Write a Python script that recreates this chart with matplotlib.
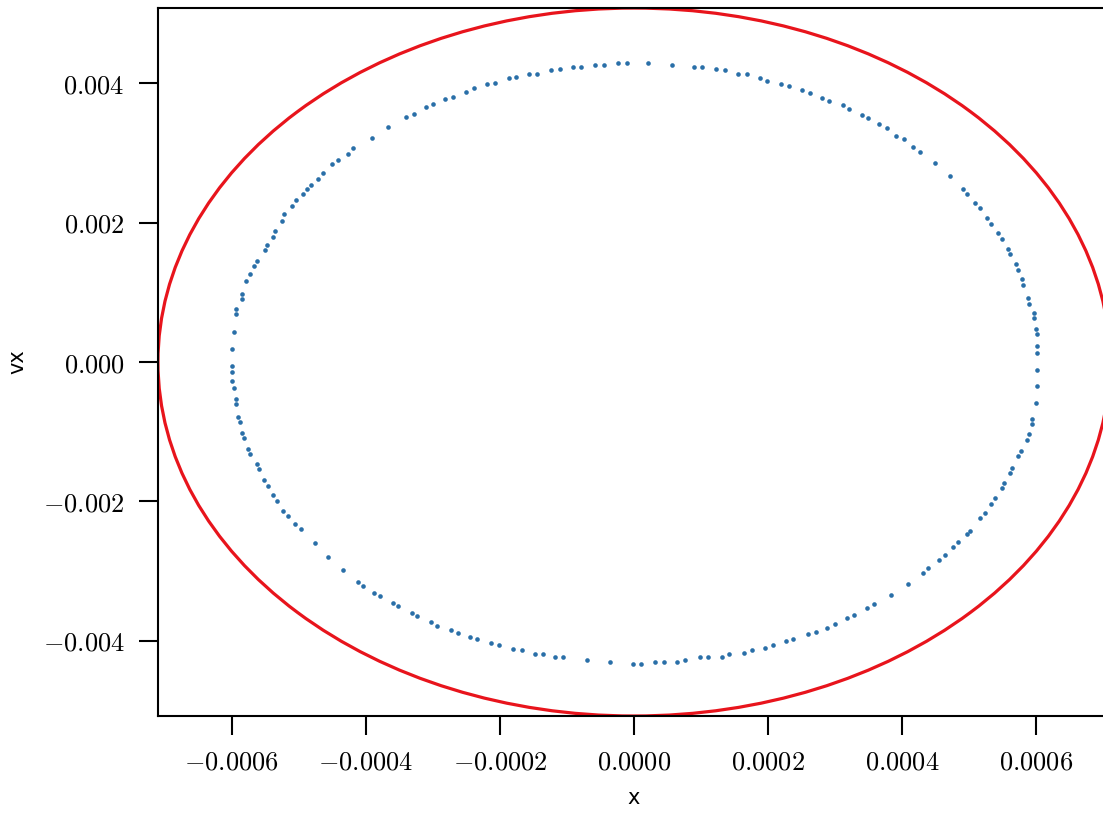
import matplotlib
matplotlib.use("Agg")
import matplotlib.pyplot as plt
from matplotlib.patches import Ellipse

plt.rcParams['mathtext.fontset'] = 'cm'

x_e4 = [-3.40, -3.28, -3.10, -3.00, -2.82, -2.70, -2.51, -2.39, -2.19, -2.07,
        -1.87, -1.76, -1.57, -1.45, -1.24, -1.10, -0.91, -0.79, -0.58, -0.45,
        -0.24, -0.10, 0.21, 0.57, 0.90, 1.01, 1.22, 1.36, 1.55, 1.69,
        1.88, 1.99, 2.19, 2.31, 2.51, 2.63, 2.81, 2.91, 3.12, 3.21,
        3.40, 3.49, 3.66, 3.78, 3.91, 4.03, 4.16, 4.27, 4.49, 4.72,
        4.91, 4.97, 5.09, 5.16, 5.27, 5.33, 5.43, 5.49, 5.58, 5.61,
        5.70, 5.73, 5.79, 5.81, 5.88, 5.90, 5.96, 5.96, 5.99, 6.01,
        6.01, 6.01, 6.01, 6.01, 5.99, 5.94, 5.93, 5.90, 5.87, 5.78,
        5.73, 5.64, 5.61, 5.52, 5.49, 5.39, 5.33, 5.24, 5.16, 5.01,
        4.97, 4.84, 4.76, 4.64, 4.55, 4.39, 4.31, 4.09, 3.84, 3.58,
        3.48, 3.28, 3.18, 3.00, 2.88, 2.72, 2.60, 2.37, 2.27, 2.07,
        1.96, 1.76, 1.64, 1.42, 1.31, 1.10, 0.99, 0.76, 0.64, 0.45,
        0.31, 0.10, -0.01, -0.36, -0.70, -1.06, -1.18, -1.36, -1.48, -1.67,
        -1.81, -2.01, -2.13, -2.34, -2.45, -2.63, -2.73, -2.94, -3.03, -3.24,
        -3.31, -3.52, -3.60, -3.79, -3.87, -4.04, -4.12, -4.34, -4.57, -4.76,
        -4.96, -5.06, -5.16, -5.24, -5.33, -5.39, -5.46, -5.52, -5.60, -5.63,
        -5.72, -5.76, -5.81, -5.84, -5.87, -5.90, -5.93, -5.94, -5.96, -5.99,
        -5.99, -6.00, -5.99, -5.96, -5.93, -5.93, -5.85, -5.84, -5.78, -5.73,
        -5.66, -5.63, -5.51, -5.48, -5.39, -5.36, -5.25, -5.22, -5.10, -5.04,
        -4.94, -4.88, -4.81, -4.72, -4.64, -4.51, -4.42, -4.27, -4.19, -3.91,
        -3.67]
vx_e3 = [3.51, 3.56, 3.66, 3.70, 3.77, 3.81, 3.87, 3.93, 3.99, 4.01,
         4.07, 4.09, 4.13, 4.14, 4.19, 4.20, 4.23, 4.23, 4.26, 4.26,
         4.29, 4.29, 4.29, 4.26, 4.23, 4.23, 4.20, 4.19, 4.14, 4.13,
         4.07, 4.04, 3.99, 3.96, 3.90, 3.86, 3.79, 3.74, 3.69, 3.63,
         3.54, 3.50, 3.41, 3.36, 3.25, 3.20, 3.08, 3.01, 2.85, 2.67,
         2.48, 2.41, 2.28, 2.21, 2.07, 1.98, 1.85, 1.76, 1.62, 1.55,
         1.41, 1.32, 1.19, 1.10, 0.92, 0.83, 0.70, 0.63, 0.47, 0.40,
         0.23, 0.13, -0.12, -0.34, -0.59, -0.82, -0.89, -1.03, -1.12, -1.28,
         -1.35, -1.52, -1.59, -1.74, -1.81, -1.95, -2.04, -2.17, -2.24, -2.42,
         -2.47, -2.58, -2.65, -2.77, -2.84, -2.95, -3.03, -3.18, -3.34, -3.47,
         -3.53, -3.63, -3.67, -3.76, -3.81, -3.87, -3.91, -3.97, -4.01, -4.06,
         -4.10, -4.13, -4.17, -4.19, -4.23, -4.24, -4.24, -4.27, -4.30, -4.30,
         -4.30, -4.33, -4.33, -4.30, -4.27, -4.24, -4.24, -4.19, -4.19, -4.13,
         -4.12, -4.06, -4.03, -3.97, -3.94, -3.89, -3.84, -3.79, -3.73, -3.64,
         -3.60, -3.50, -3.46, -3.36, -3.31, -3.21, -3.15, -2.98, -2.80, -2.60,
         -2.39, -2.32, -2.21, -2.14, -1.99, -1.91, -1.78, -1.69, -1.53, -1.46,
         -1.32, -1.25, -1.09, -1.02, -0.86, -0.79, -0.60, -0.53, -0.37, -0.27,
         -0.14, -0.06, 0.19, 0.43, 0.69, 0.76, 0.90, 0.98, 1.16, 1.26,
         1.38, 1.45, 1.61, 1.68, 1.79, 1.88, 2.02, 2.12, 2.24, 2.32,
         2.41, 2.48, 2.54, 2.62, 2.71, 2.84, 2.90, 2.98, 3.07, 3.21,
         3.38]

# bounding energy contour (ellipse semi-axes)
x_max = 0.00071
vx_max = 0.00508

xticks = [-0.0006, -0.0004, -0.0002, 0.0, 0.0002, 0.0004, 0.0006]
yticks = [-0.004, -0.002, 0.0, 0.002, 0.004]

xs = [v * 1e-4 for v in x_e4]
vxs = [v * 1e-3 for v in vx_e3]

fig = plt.figure(figsize=(11.03, 8.13), dpi=100)
ax = fig.add_axes([0.1432, 0.1193, 0.8631, 0.8708])

ax.scatter(xs, vxs, s=11, color='#2a6fa8', linewidths=0, zorder=3)
ax.add_patch(Ellipse((0, 0), 2 * x_max, 2 * vx_max, fill=False,
                     edgecolor='#e8141c', linewidth=2.3, zorder=2))

ax.set_xlim(-x_max, x_max)
ax.set_ylim(-vx_max, vx_max)

ax.set_xticks(xticks)
ax.set_xticklabels(['$%.4f$' % t if t != 0 else '$0.0000$' for t in xticks])
ax.set_yticks(yticks)
ax.set_yticklabels(['$%.3f$' % t if t != 0 else '$0.000$' for t in yticks])
ax.tick_params(direction='out', length=14, width=1.5, labelsize=19, pad=10)

for sp in ax.spines.values():
    sp.set_linewidth(1.5)

ax.set_xlabel('x', fontsize=15, labelpad=9)
ax.set_ylabel('vx', fontsize=15, labelpad=11)

fig.savefig('out.png', dpi=100)
